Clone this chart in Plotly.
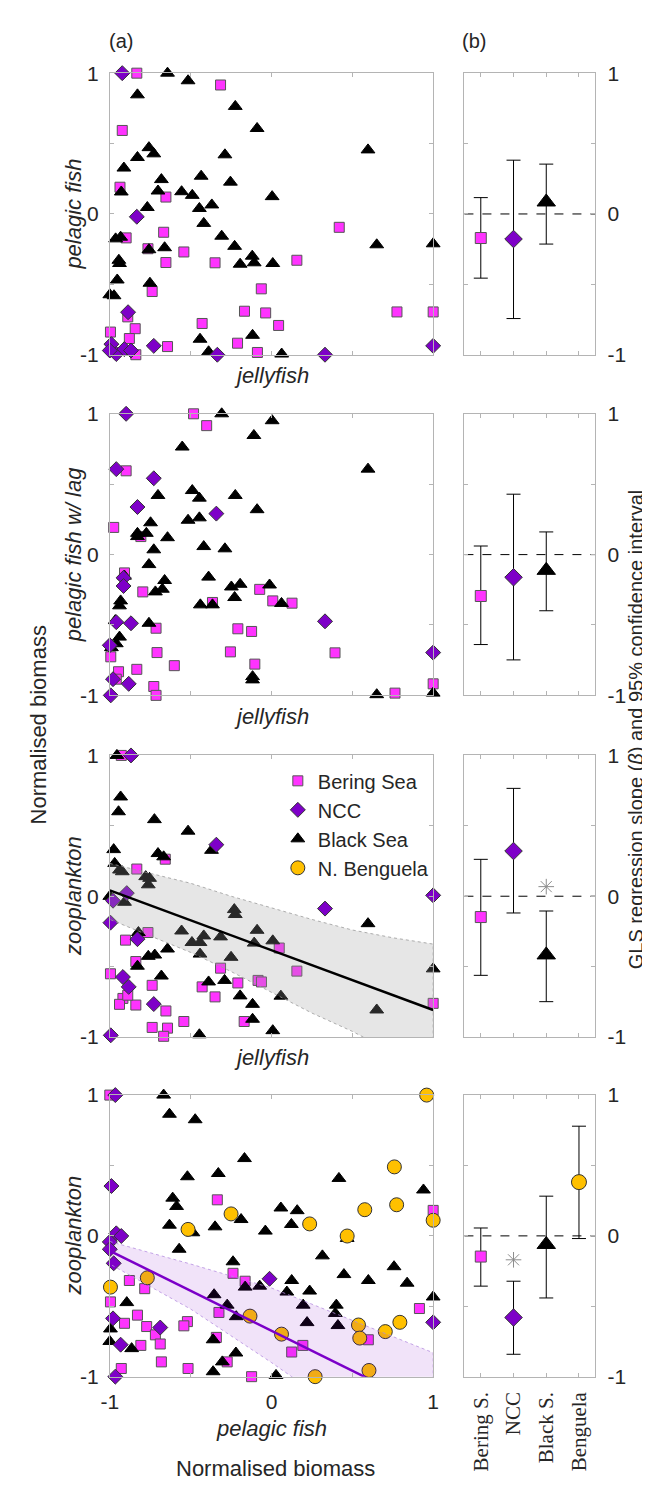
import plotly.graph_objects as go

# ---------------- data ----------------
# Panel 1: pelagic fish vs jellyfish
p1_bering_x = [-0.833,-0.315,-0.923,-0.937,-0.653,-0.899,-0.667,-0.764,-0.542,-0.653,-0.349,0.157,0.419,-0.738,-0.063,-0.167,-0.036,0.044,0.776,1.0,-0.429,-0.21,-0.087,-0.643,-0.843,-0.996,-0.889,-0.879,-0.839]
p1_bering_y = [1.0,0.916,0.593,0.19,0.12,-0.17,-0.13,-0.247,-0.27,-0.345,-0.347,-0.329,-0.095,-0.551,-0.532,-0.691,-0.703,-0.792,-0.696,-0.696,-0.778,-0.918,-0.984,-0.942,-0.815,-0.839,-0.731,-0.885,-1.0]
p1_ncc_x = [-0.923,-0.833,-0.887,-0.728,-0.335,0.331,1.0,-0.99,-0.96,-0.91,-0.869,-1.0]
p1_ncc_y = [1.0,-0.02,-0.698,-0.937,-1.0,-1.0,-0.937,-0.925,-0.995,-0.96,-0.97,-0.97]
p1_black_x = [-0.643,-0.516,-0.829,-0.224,-0.089,0.597,-0.758,-0.728,-0.829,-0.288,-0.913,-0.435,-0.681,-0.254,-0.929,-0.702,-0.556,-0.49,-0.369,-0.446,0.004,-0.768,-0.419,-0.308,-0.228,-0.119,-0.107,-0.194,0.008,-0.964,-0.933,-0.944,-0.94,-0.954,-0.758,-0.661,-0.752,-1.0,-0.974,-0.442,-0.117,-0.389,0.063,0.651,1.0]
p1_black_y = [1.0,0.946,0.846,0.764,0.607,0.455,0.471,0.427,0.401,0.42,0.326,0.268,0.244,0.226,0.156,0.163,0.158,0.132,0.064,0.039,0.123,0.046,-0.067,-0.158,-0.23,-0.3,-0.347,-0.357,-0.352,-0.177,-0.165,-0.329,-0.352,-0.469,-0.254,-0.24,-0.492,-0.574,-0.581,-0.89,-0.862,-0.979,-0.995,-0.219,-0.212]

# Panel 2: pelagic fish w/ lag vs jellyfish
p2_bering_x = [-0.482,-0.401,-0.899,-0.976,-0.808,-0.909,-0.796,-0.365,-0.073,0.008,0.127,-0.714,-0.208,-0.123,-0.708,-0.254,0.393,-0.601,-0.103,-0.833,-0.946,-0.994,-0.728,-0.714,0.764,1.0,-0.96]
p2_bering_y = [1.0,0.916,0.595,0.193,0.128,-0.13,-0.265,-0.34,-0.247,-0.329,-0.345,-0.523,-0.527,-0.546,-0.696,-0.691,-0.698,-0.789,-0.778,-0.815,-0.832,-0.726,-0.937,-1.0,-0.984,-0.918,-0.885]
p2_ncc_x = [-0.899,-0.96,-0.728,-0.829,-0.341,-0.915,-0.915,-0.869,-0.96,-1.0,0.331,1.0,-0.98,-0.883,-0.994]
p2_ncc_y = [1.0,0.607,0.542,0.338,0.291,-0.165,-0.223,-0.488,-0.48,-0.644,-0.474,-0.696,-0.885,-0.918,-1.0]
p2_black_x = [-0.308,0.004,-0.109,-0.552,0.597,-0.49,-0.446,-0.702,-0.224,-0.089,-0.516,-0.446,-0.748,-0.829,-0.774,-0.643,-0.829,-0.728,-0.419,-0.288,-0.758,-0.909,-0.389,-0.661,-0.718,-0.675,-0.248,-0.194,-0.228,-0.012,0.062,-0.44,-0.365,-0.933,-0.94,-0.966,-0.758,-0.94,-0.96,-0.99,-0.117,-0.117,0.651,1.0]
p2_black_y = [1.0,0.951,0.846,0.764,0.607,0.455,0.401,0.42,0.42,0.319,0.244,0.261,0.226,0.151,0.151,0.12,0.128,0.034,0.057,0.041,-0.071,-0.153,-0.16,-0.184,-0.265,-0.246,-0.23,-0.211,-0.305,-0.216,-0.347,-0.357,-0.357,-0.329,-0.364,-0.469,-0.488,-0.586,-0.633,-0.661,-0.867,-0.89,-0.995,-0.984]

# Panel 3: zooplankton vs jellyfish
p3_bering_x = [-0.929,-0.657,-0.833,-0.764,-0.903,-0.839,-0.996,-0.738,-0.315,-0.208,-0.083,-0.062,0.048,0.157,-0.429,-0.349,-0.919,-0.94,-0.839,-0.653,-0.542,-0.738,-0.643,-0.667,-0.169,1.0,-0.889]
p3_bering_y = [1.0,0.263,0.193,-0.258,-0.312,-0.464,-0.551,-0.633,-0.511,-0.616,-0.598,-0.609,-0.368,-0.532,-0.644,-0.715,-0.726,-0.768,-0.773,-0.815,-0.89,-0.932,-0.937,-0.995,-0.89,-0.761,-0.703]
p3_ncc_x = [-0.869,-0.341,-0.895,-0.98,-0.996,-0.829,-0.919,-0.883,-0.728,0.331,1.0,-0.994]
p3_ncc_y = [1.0,0.366,0.022,-0.032,-0.188,-0.305,-0.574,-0.644,-0.766,-0.088,0.006,-0.988]
p3_black_x = [-0.956,-0.933,-0.946,-0.724,-0.516,-0.371,-0.702,-0.667,-0.976,-0.97,-0.94,-0.923,-0.778,-0.754,-0.762,-1.0,-0.909,-0.23,-0.224,-0.823,-0.556,-0.492,-0.419,-0.442,-0.315,-0.089,-0.107,0.008,-0.442,-0.643,-0.722,-0.762,-0.25,-0.829,-0.681,-0.389,-0.29,-0.194,-0.117,-0.117,0.058,0.008,-0.446,0.597,0.651,1.0]
p3_black_y = [1.0,0.705,0.6,0.544,0.462,0.326,0.303,0.28,0.331,0.233,0.186,0.174,0.139,0.127,0.081,-0.001,-0.043,-0.095,-0.13,-0.258,-0.247,-0.329,-0.282,-0.329,-0.289,-0.242,-0.333,-0.317,-0.411,-0.375,-0.418,-0.427,-0.434,-0.497,-0.567,-0.609,-0.598,-0.708,-0.768,-0.874,-0.71,-0.955,-0.984,-0.195,-0.808,-0.516]
p3_fit_x = [-1.0, 1.0]
p3_fit_y = [0.041, -0.808]
p3_band_x = [-1.0,-0.75,-0.5,-0.25,0.0,0.25,0.5,0.75,1.0]
p3_band_hi = [0.233,0.16,0.092,0.0,-0.083,-0.165,-0.24,-0.295,-0.34]
p3_band_lo = [-0.165,-0.28,-0.399,-0.535,-0.68,-0.83,-0.96,-1.11,-1.28]

# Panel 4: zooplankton vs pelagic fish
p4_bering_x = [-1.0,-0.335,1.0,-0.238,-0.163,-0.879,-0.784,-0.996,-0.829,-0.909,-0.772,-0.52,-0.542,-0.718,-0.688,-0.808,-0.325,-0.341,-0.274,-0.681,-0.516,-0.929,-0.123,0.125,0.194,0.599,0.915]
p4_bering_y = [1.0,0.256,0.181,-0.266,-0.322,-0.317,-0.375,-0.469,-0.563,-0.621,-0.644,-0.609,-0.639,-0.703,-0.768,-0.778,-0.544,-0.721,-0.895,-0.895,-0.942,-0.942,-1.0,-0.825,-0.778,-0.738,-0.516]
p4_ncc_x = [-0.966,-0.99,-0.96,-0.929,-1.0,-1.0,-0.976,-0.012,-0.98,-0.933,-0.688,-0.966,1.0]
p4_ncc_y = [1.0,0.354,0.018,-0.001,-0.043,-0.095,-0.195,-0.305,-0.586,-0.773,-0.651,-1.0,-0.614]
p4_black_x = [-0.667,-0.631,-0.472,-0.167,-0.52,-0.329,0.417,0.94,-0.611,-0.587,0.058,0.159,-0.188,-0.631,-0.349,-0.486,-0.038,0.123,0.468,-0.571,0.315,-0.238,0.448,0.758,0.599,0.839,-0.163,-0.073,0.125,0.095,0.236,-0.355,0.196,-0.274,-0.218,0.401,0.395,0.22,0.411,1.0,-0.895,-0.996,-1.0,-0.865,-0.361,-0.22,-0.304,-0.361,0.028]
p4_black_y = [1.0,0.864,0.825,0.549,0.42,0.443,0.408,0.326,0.268,0.209,0.198,0.179,0.116,0.076,0.064,0.022,0.034,0.081,-0.018,-0.095,-0.142,-0.184,-0.275,-0.219,-0.317,-0.336,-0.364,-0.357,-0.317,-0.399,-0.392,-0.418,-0.492,-0.492,-0.574,-0.492,-0.551,-0.616,-0.637,-0.434,-0.474,-0.661,-0.75,-0.801,-0.738,-0.832,-0.895,-0.965,-0.991]
p4_beng_x = [0.96,0.76,0.774,0.577,1.0,-0.25,-0.516,0.236,0.468,-0.996,-0.768,-0.133,0.062,0.538,0.546,0.704,0.794,0.603,0.27]
p4_beng_y = [1.0,0.49,0.221,0.186,0.111,0.156,0.046,0.085,-0.001,-0.364,-0.298,-0.57,-0.698,-0.633,-0.726,-0.68,-0.614,-0.956,-1.0]
p4_fit_x = [-1.0, 1.0]
p4_fit_y = [-0.106, -1.242]
p4_band_x = [-1.0,-0.5,0.0,0.5,1.0]
p4_band_hi = [-0.04,-0.2,-0.37,-0.6,-0.83]
p4_band_lo = [-0.2,-0.52,-0.9,-1.3,-1.7]

# Panel (b): GLS slopes with 95% CI
regions = ["Bering Sea", "NCC", "Black Sea", "N. Benguela"]
region_ticks = ["Bering S.", "NCC", "Black S.", "Benguela"]
region_pos = [1, 2, 3, 4]
b1_slope = [-0.171, -0.178, 0.085]
b1_hi = [0.116, 0.382, 0.354]
b1_lo = [-0.456, -0.743, -0.214]
b2_slope = [-0.294, -0.161, -0.112]
b2_hi = [0.061, 0.429, 0.161]
b2_lo = [-0.639, -0.748, -0.399]
b3_slope = [-0.148, 0.321, -0.417]
b3_hi = [0.262, 0.766, -0.105]
b3_lo = [-0.562, -0.119, -0.749]
b3_star_pos = [3]
b3_star_val = [0.068]
b4_slope = [-0.147, -0.58, -0.061, 0.382]
b4_hi = [0.056, -0.322, 0.282, 0.779]
b4_lo = [-0.357, -0.841, -0.441, -0.019]
b4_star_pos = [2]
b4_star_val = [-0.17]

y_titles = ["pelagic fish", "pelagic fish w/ lag", "zooplankton", "zooplankton"]
x_titles = ["jellyfish", "jellyfish", "jellyfish", "pelagic fish"]

# ---------------- styling ----------------
W, H = 650, 1485
FONT = "Arial, Liberation Sans, sans-serif"
SERIF = "Times New Roman, Liberation Serif, serif"
TXT = "#262626"
AXC = "#b4b4b4"
STY = {
    "Bering Sea": dict(symbol="square", color="#FF33FF", size=10, lc="#555555"),
    "NCC": dict(symbol="diamond", color="#7E00C8", size=11.5, lc="#333333"),
    "Black Sea": dict(symbol="triangle-up", color="#000000", size=12, lc="#000000"),
    "N. Benguela": dict(symbol="circle", color="#FFC000", size=14, lc="#333333"),
}
BSIZE = {"Bering Sea": 11, "NCC": 13.5, "Black Sea": 16, "N. Benguela": 15}

rows_px = [(54, 340), (400, 686), (747, 1033), (1092, 1378)]
xa_dom = [95 / W, 426 / W]
xb_dom = [458 / W, 592 / W]

fig = go.Figure()

def mk(name, size=None):
    s = STY[name]
    return dict(symbol=s["symbol"], color=s["color"], size=size or s["size"],
                line=dict(color=s["lc"], width=1))

def add_pts(r, name, xs, ys, legend=False):
    ax = 2 * r + 1
    fig.add_trace(go.Scatter(x=xs, y=ys, mode="markers", name=name, marker=mk(name),
                             xaxis=f"x{ax}", yaxis=f"y{ax}", cliponaxis=False,
                             showlegend=legend, legendrank={"Bering Sea":1,"NCC":2,"Black Sea":3,"N. Benguela":4}[name]))

def add_band(r, bx, hi, lo, fillc, linec):
    ax = 2 * r + 1
    fig.add_trace(go.Scatter(x=bx + bx[::-1], y=hi + lo[::-1], mode="lines", fill="toself",
                             fillcolor=fillc, line=dict(color=linec, width=0.8, dash="dot"),
                             xaxis=f"x{ax}", yaxis=f"y{ax}", showlegend=False, hoverinfo="skip"))

def add_fit(r, fx, fy, color):
    ax = 2 * r + 1
    fig.add_trace(go.Scatter(x=fx, y=fy, mode="lines", line=dict(color=color, width=2.5),
                             xaxis=f"x{ax}", yaxis=f"y{ax}", showlegend=False))

def add_slopes(r, slopes, hi, lo):
    ax = 2 * r + 2
    for i, v in enumerate(slopes):
        name = regions[i]
        fig.add_trace(go.Scatter(x=[region_pos[i]], y=[v], mode="markers",
                                 marker=mk(name, BSIZE[name]),
                                 error_y=dict(type="data", symmetric=False, array=[hi[i] - v],
                                              arrayminus=[v - lo[i]], color="#000000",
                                              thickness=1, width=7),
                                 xaxis=f"x{ax}", yaxis=f"y{ax}", cliponaxis=False, showlegend=False))

def add_star(r, pos, vals):
    ax = 2 * r + 2
    fig.add_trace(go.Scatter(x=pos, y=vals, mode="markers",
                             marker=dict(symbol="asterisk-open", size=13, color="#8c8c8c",
                                         line=dict(color="#8c8c8c", width=1)),
                             xaxis=f"x{ax}", yaxis=f"y{ax}", showlegend=False))

# panel 1
add_pts(0, "Bering Sea", p1_bering_x, p1_bering_y)
add_pts(0, "Black Sea", p1_black_x, p1_black_y)
add_pts(0, "NCC", p1_ncc_x, p1_ncc_y)
add_slopes(0, b1_slope, b1_hi, b1_lo)
# panel 2
add_pts(1, "Bering Sea", p2_bering_x, p2_bering_y)
add_pts(1, "Black Sea", p2_black_x, p2_black_y)
add_pts(1, "NCC", p2_ncc_x, p2_ncc_y)
add_slopes(1, b2_slope, b2_hi, b2_lo)
# panel 3
add_pts(2, "Bering Sea", p3_bering_x, p3_bering_y)
add_pts(2, "Black Sea", p3_black_x, p3_black_y)
add_pts(2, "NCC", p3_ncc_x, p3_ncc_y)
add_band(2, p3_band_x, p3_band_hi, p3_band_lo, "rgba(160,160,160,0.26)", "#9a9a9a")
add_fit(2, p3_fit_x, p3_fit_y, "#000000")
add_star(2, b3_star_pos, b3_star_val)
add_slopes(2, b3_slope, b3_hi, b3_lo)
# panel 4
add_pts(3, "Bering Sea", p4_bering_x, p4_bering_y, legend=True)
add_pts(3, "Black Sea", p4_black_x, p4_black_y, legend=True)
add_pts(3, "N. Benguela", p4_beng_x, p4_beng_y, legend=True)
add_pts(3, "NCC", p4_ncc_x, p4_ncc_y, legend=True)
add_band(3, p4_band_x, p4_band_hi, p4_band_lo, "rgba(126,0,200,0.11)", "#b58ee0")
add_fit(3, p4_fit_x, p4_fit_y, "#7B00C8")
add_star(3, b4_star_pos, b4_star_val)
add_slopes(3, b4_slope, b4_hi, b4_lo)

common = dict(showline=True, linecolor=AXC, linewidth=1, mirror="ticks", ticks="inside",
              ticklen=4, tickcolor=AXC, showgrid=False, zeroline=False,
              tickfont=dict(family=FONT, size=21, color=TXT))
lay = {}
ann = []
shapes = []
for r, (top, bot) in enumerate(rows_px):
    ydom = [1 - bot / H, 1 - top / H]
    a, b = 2 * r + 1, 2 * r + 2
    lay[f"xaxis{a}"] = dict(common, domain=xa_dom, range=[-1, 1], anchor=f"y{a}",
                            tickvals=[-1, -0.5, 0, 0.5, 1], ticktext=["-1", "", "0", "", "1"],
                            showticklabels=(r == 3), ticklabelstandoff=6)
    lay[f"yaxis{a}"] = dict(common, domain=ydom, range=[-1, 1], anchor=f"x{a}",
                            tickvals=[-1, -0.5, 0, 0.5, 1], ticktext=["-1", "", "0", "", "1"],
                            ticklabelstandoff=6)
    lay[f"xaxis{b}"] = dict(common, domain=xb_dom, range=[0.5, 4.5], anchor=f"y{b}",
                            tickvals=region_pos, ticktext=region_ticks, tickangle=-90,
                            showticklabels=(r == 3), ticklabelstandoff=6,
                            tickfont=dict(family=SERIF, size=21, color=TXT))
    lay[f"yaxis{b}"] = dict(common, domain=ydom, range=[-1, 1], anchor=f"x{b}", side="right",
                            tickvals=[-1, -0.5, 0, 0.5, 1], ticktext=["-1", "", "0", "", "1"],
                            ticklabelstandoff=7)
    shapes.append(dict(type="line", xref=f"x{b} domain", yref=f"y{b}", x0=0, x1=1, y0=0, y1=0,
                       line=dict(color="#000000", width=1, dash="dash"), layer="below"))
    ymid = 1 - (top + bot) / 2 / H
    ann.append(dict(text=f"<i>{y_titles[r]}</i>", x=58 / W, y=ymid, xref="paper", yref="paper",
                    textangle=-90, showarrow=False, xanchor="center", yanchor="middle",
                    font=dict(family=FONT, size=22, color=TXT)))
    off = 53 if r == 3 else 21
    ann.append(dict(text=f"<i>{x_titles[r]}</i>", x=260 / W, y=1 - (bot + off) / H,
                    xref="paper", yref="paper", showarrow=False, xanchor="center", yanchor="middle",
                    font=dict(family=FONT, size=22, color=TXT)))

ann += [
    dict(text="(a)", x=106 / W, y=1 - 21 / H, xref="paper", yref="paper", showarrow=False,
         xanchor="center", yanchor="middle", font=dict(family=FONT, size=20, color=TXT)),
    dict(text="(b)", x=468 / W, y=1 - 21 / H, xref="paper", yref="paper", showarrow=False,
         xanchor="center", yanchor="middle", font=dict(family=FONT, size=20, color=TXT)),
    dict(text="Normalised biomass", x=22 / W, y=1 - 716 / H, xref="paper", yref="paper",
         textangle=-90, showarrow=False, xanchor="center", yanchor="middle",
         font=dict(family=FONT, size=22, color=TXT)),
    dict(text="Normalised biomass", x=265 / W, y=1 - 1471 / H, xref="paper", yref="paper",
         showarrow=False, xanchor="center", yanchor="middle",
         font=dict(family=FONT, size=22, color=TXT)),
    dict(text="GLS regression slope (<i>β</i>) and 95% confidence interval", x=633 / W,
         y=1 - 721 / H, xref="paper", yref="paper", textangle=-90, showarrow=False,
         xanchor="center", yanchor="middle", font=dict(family=FONT, size=20, color=TXT)),
]

fig.update_layout(
    width=W, height=H, margin=dict(l=0, r=0, t=0, b=0),
    paper_bgcolor="white", plot_bgcolor="white",
    font=dict(family=FONT, color=TXT),
    annotations=ann, shapes=shapes,
    legend=dict(x=267 / W, y=1 - 753 / H, xanchor="left", yanchor="top",
                bgcolor="rgba(0,0,0,0)", borderwidth=0, tracegroupgap=0,
                font=dict(family=FONT, size=20, color=TXT)),
    **lay,
)

fig.write_html("out.html")
